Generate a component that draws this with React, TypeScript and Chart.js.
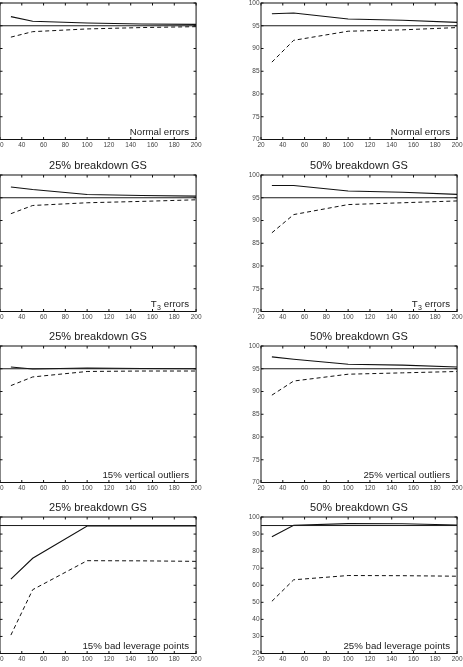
import React, { useEffect, useRef } from "react";
import { Chart, registerables } from "chart.js";

Chart.register(...registerables);

// ---------- data ----------
const sampleSizes = [30, 50, 100, 150, 200];
const nominalX = [20, 200];
const nominalLevel = 95;

const xRange = [20, 200];
const xStep = 20;
const yRangeMain = [70, 100];
const yStepMain = 5;
const yRangeLeverage = [20, 100];
const yStepLeverage = 10;

const titles = ["25% breakdown GS", "50% breakdown GS"];

// Row 1: normal errors
const normal25Solid = [97.0, 96.0, 95.6, 95.4, 95.3];
const normal25Dashed = [92.5, 93.7, 94.3, 94.6, 94.8];
const normal50Solid = [97.65, 97.8, 96.5, 96.2, 95.75];
const normal50Dashed = [87.0, 91.8, 93.8, 94.1, 94.6];
// Row 2: T3 errors
const t3Of25Solid = [97.35, 96.8, 95.7, 95.5, 95.35];
const t3Of25Dashed = [91.5, 93.3, 93.9, 94.2, 94.55];
const t3Of50Solid = [97.7, 97.7, 96.5, 96.2, 95.75];
const t3Of50Dashed = [87.3, 91.3, 93.5, 93.9, 94.3];
// Row 3: vertical outliers
const vertical15Solid = [95.4, 94.95, 95.15, 95.05, 95.0];
const vertical15Dashed = [91.3, 93.2, 94.4, 94.5, 94.5];
const vertical25Solid = [97.6, 97.1, 96.0, 95.8, 95.4];
const vertical25Dashed = [89.2, 92.3, 93.8, 94.1, 94.4];
// Row 4: bad leverage points
const leverage15Solid = [63.6, 75.8, 94.7, 94.8, 94.8];
const leverage15Dashed = [30.8, 57.4, 74.4, 74.3, 74.0];
const leverage25Solid = [88.4, 95.2, 96.1, 96.0, 95.3];
const leverage25Dashed = [50.6, 63.2, 65.7, 65.6, 65.3];

type Label = { main: string; sub?: string; rest?: string };

type PanelCfg = {
  title: string;
  solid: number[];
  dashed: number[];
  label: Label;
  yRange: number[];
  yStep: number;
};

const panels: PanelCfg[][] = [
  [
    { title: titles[0], solid: normal25Solid, dashed: normal25Dashed, label: { main: "Normal errors" }, yRange: yRangeMain, yStep: yStepMain },
    { title: titles[1], solid: normal50Solid, dashed: normal50Dashed, label: { main: "Normal errors" }, yRange: yRangeMain, yStep: yStepMain },
  ],
  [
    { title: titles[0], solid: t3Of25Solid, dashed: t3Of25Dashed, label: { main: "T", sub: "3", rest: " errors" }, yRange: yRangeMain, yStep: yStepMain },
    { title: titles[1], solid: t3Of50Solid, dashed: t3Of50Dashed, label: { main: "T", sub: "3", rest: " errors" }, yRange: yRangeMain, yStep: yStepMain },
  ],
  [
    { title: titles[0], solid: vertical15Solid, dashed: vertical15Dashed, label: { main: "15% vertical outliers" }, yRange: yRangeMain, yStep: yStepMain },
    { title: titles[1], solid: vertical25Solid, dashed: vertical25Dashed, label: { main: "25% vertical outliers" }, yRange: yRangeMain, yStep: yStepMain },
  ],
  [
    { title: titles[0], solid: leverage15Solid, dashed: leverage15Dashed, label: { main: "15% bad leverage points" }, yRange: yRangeLeverage, yStep: yStepLeverage },
    { title: titles[1], solid: leverage25Solid, dashed: leverage25Dashed, label: { main: "25% bad leverage points" }, yRange: yRangeLeverage, yStep: yStepLeverage },
  ],
];

// ---------- layout ----------
const FONT = "'Liberation Sans', Arial, Helvetica, sans-serif";
const CANVAS_W = 233;
const CANVAS_H = 171;
const Y_AXIS_W = 30;
const X_AXIS_H = 14.5;
const COL_LEFT = [-30, 231];
const ROW_TOP = [-17, 154.5, 325.5, 497];

function Panel({ cfg, left, top }: { cfg: PanelCfg; left: number; top: number }) {
  const ref = useRef<HTMLCanvasElement>(null);

  useEffect(() => {
    const canvas = ref.current!;
    const framePlugin = {
      id: "frame",
      afterDraw(chart: any) {
        const { ctx, chartArea: a, scales } = chart;
        ctx.save();
        ctx.strokeStyle = "#111";
        ctx.lineWidth = 1;
        ctx.strokeRect(a.left, a.top, a.right - a.left, a.bottom - a.top);
        const tl = 2.5;
        ctx.beginPath();
        for (const t of scales.x.ticks) {
          const px = scales.x.getPixelForValue(t.value);
          ctx.moveTo(px, a.bottom);
          ctx.lineTo(px, a.bottom - tl);
          ctx.moveTo(px, a.top);
          ctx.lineTo(px, a.top + tl);
        }
        for (const t of scales.y.ticks) {
          const py = scales.y.getPixelForValue(t.value);
          ctx.moveTo(a.left, py);
          ctx.lineTo(a.left + tl, py);
          ctx.moveTo(a.right, py);
          ctx.lineTo(a.right - tl, py);
        }
        ctx.stroke();

        // annotation
        const lab = cfg.label;
        const big = `9.7px ${FONT}`;
        const small = `7px ${FONT}`;
        ctx.fillStyle = "#222";
        ctx.textBaseline = "alphabetic";
        ctx.textAlign = "left";
        let x = a.right - 7;
        const y = a.bottom - 5;
        ctx.font = big;
        const wRest = lab.rest ? ctx.measureText(lab.rest).width : 0;
        const wMain = ctx.measureText(lab.main).width;
        ctx.font = small;
        const wSub = lab.sub ? ctx.measureText(lab.sub).width + 0.5 : 0;
        x -= wRest + wSub + wMain;
        ctx.font = big;
        ctx.fillText(lab.main, x, y);
        x += wMain;
        if (lab.sub) {
          ctx.font = small;
          ctx.fillText(lab.sub, x + 0.3, y + 3);
          x += wSub;
        }
        if (lab.rest) {
          ctx.font = big;
          ctx.fillText(lab.rest, x, y);
        }
        ctx.restore();
      },
    };

    const chart = new Chart(canvas, {
      type: "line",
      data: {
        datasets: [
          {
            data: nominalX.map((x) => ({ x, y: nominalLevel })),
            borderColor: "#1a1a1a",
            borderWidth: 1,
            pointRadius: 0,
          },
          {
            data: sampleSizes.map((x, i) => ({ x, y: cfg.solid[i] })),
            borderColor: "#111",
            borderWidth: 1.1,
            pointRadius: 0,
          },
          {
            data: sampleSizes.map((x, i) => ({ x, y: cfg.dashed[i] })),
            borderColor: "#111",
            borderWidth: 1,
            borderDash: [4, 3],
            pointRadius: 0,
          },
        ],
      },
      options: {
        responsive: false,
        animation: false,
        devicePixelRatio: 1,
        layout: { padding: { left: 0, right: 5.5, top: 0, bottom: 0 } },
        plugins: {
          legend: { display: false },
          tooltip: { enabled: false },
          title: {
            display: true,
            text: cfg.title,
            fullSize: false,
            color: "#1a1a1a",
            font: { family: FONT, size: 11, weight: "normal" },
            padding: { top: 4.7, bottom: 2.1 },
          },
        },
        scales: {
          x: {
            type: "linear",
            min: xRange[0],
            max: xRange[1],
            ticks: {
              stepSize: xStep,
              autoSkip: false,
              maxRotation: 0,
              padding: 1.5,
              color: "#444",
              font: { family: FONT, size: 6.5 },
            },
            grid: { display: false, drawTicks: false, tickLength: 0 },
            border: { display: false },
            afterFit: (s: any) => {
              s.height = X_AXIS_H;
            },
          },
          y: {
            type: "linear",
            min: cfg.yRange[0],
            max: cfg.yRange[1],
            ticks: {
              stepSize: cfg.yStep,
              padding: 1.5,
              color: "#444",
              font: { family: FONT, size: 6.5 },
            },
            grid: { display: false, drawTicks: false, tickLength: 0 },
            border: { display: false },
            afterFit: (s: any) => {
              s.width = Y_AXIS_W;
            },
          },
        },
      } as any,
      plugins: [framePlugin],
    });
    return () => chart.destroy();
  }, [cfg]);

  return (
    <canvas
      ref={ref}
      width={CANVAS_W}
      height={CANVAS_H}
      style={{ position: "absolute", left, top, width: CANVAS_W, height: CANVAS_H }}
    />
  );
}

export default function App() {
  return (
    <div
      style={{
        position: "fixed",
        left: 0,
        top: 0,
        width: 463,
        height: 667,
        overflow: "hidden",
        background: "#fff",
      }}
    >
      {panels.map((row, r) =>
        row.map((cfg, c) => (
          <Panel key={`${r}-${c}`} cfg={cfg} left={COL_LEFT[c]} top={ROW_TOP[r]} />
        ))
      )}
    </div>
  );
}
